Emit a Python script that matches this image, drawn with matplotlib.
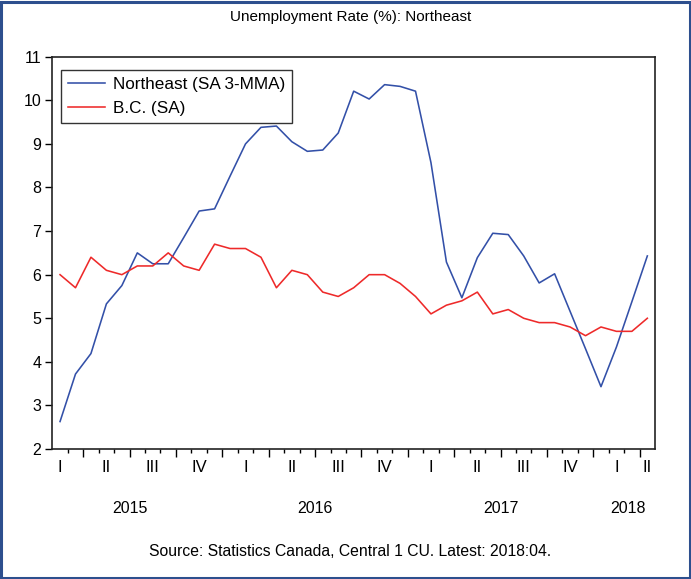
import matplotlib
matplotlib.use("Agg")
import matplotlib.pyplot as plt
from matplotlib.patches import Rectangle

plt.rcParams["font.family"] = ["Liberation Sans", "DejaVu Sans"]

# monthly series, 2015:02 to 2018:04
start_year = 2015
start_month = 2
northeast = [2.63, 3.72, 4.19, 5.33, 5.75, 6.50, 6.25, 6.25, 6.85, 7.46,
             7.51, 8.26, 9.00, 9.38, 9.41, 9.05, 8.83, 8.86, 9.25, 10.21,
             10.03, 10.36, 10.32, 10.21, 8.57, 6.29, 5.47, 6.39, 6.95, 6.92,
             6.43, 5.81, 6.02, 5.16, 4.30, 3.43, 4.34, 5.38, 6.43]
bc = [6.0, 5.7, 6.4, 6.1, 6.0, 6.2, 6.2, 6.5, 6.2, 6.1,
      6.7, 6.6, 6.6, 6.4, 5.7, 6.1, 6.0, 5.6, 5.5, 5.7,
      6.0, 6.0, 5.8, 5.5, 5.1, 5.3, 5.4, 5.6, 5.1, 5.2,
      5.0, 4.9, 4.9, 4.8, 4.6, 4.8, 4.7, 4.7, 5.0]
quarter_names = ["I", "II", "III", "IV"]
series_labels = ["Northeast (SA 3-MMA)", "B.C. (SA)"]

n = len(bc)
x = list(range(n))
months = [(start_month - 1 + i) % 12 for i in range(n)]
years = [start_year + (start_month - 1 + i) // 12 for i in range(n)]

fig = plt.figure(figsize=(6.91, 5.79), dpi=100)
ax = fig.add_axes([0.0757, 0.2245, 0.8723, 0.6775])

ax.plot(x, northeast, color="#3350a8", lw=1.15, label=series_labels[0])
ax.plot(x, bc, color="#ee2a2a", lw=1.15, label=series_labels[1])

ax.set_xlim(-0.5, n - 0.5)
ax.set_ylim(2, 11)
ax.set_yticks(range(2, 12))
ax.tick_params(axis="y", direction="out", length=5, width=1, labelsize=11.5, pad=3)

# month ticks between observations, longer ones at quarter starts
bounds = [i - 0.5 for i in range(1, n)]
major = [i - 0.5 for i in range(1, n) if months[i] % 3 == 0]
minor = [b for b in bounds if b not in major]
ax.set_xticks(major)
ax.set_xticks(minor, minor=True)
ax.set_xticklabels([])
ax.tick_params(axis="x", which="major", direction="out", length=6, width=1)
ax.tick_params(axis="x", which="minor", direction="out", length=3, width=1)

for s in ax.spines.values():
    s.set_linewidth(1.2)
    s.set_color("#222222")

# quarter labels, centred on each quarter (kept inside the axis)
quarters = {}
for i in x:
    key = (years[i], months[i] // 3)
    quarters.setdefault(key, []).append(i)
for (yr, q), idx in quarters.items():
    first = idx[0] - months[idx[0]] % 3
    pos = min(max(first + 1, 0), n - 1)
    ax.text(pos, -0.048, quarter_names[q], transform=ax.get_xaxis_transform(),
            ha="center", va="center", fontsize=12)

# year labels
yrs = {}
for i in x:
    yrs.setdefault(years[i], []).append(i)
for yr, idx in yrs.items():
    first = idx[0] - months[idx[0]]
    last = first + 11
    pos = (max(first, -0.5) + min(last, n - 0.5)) / 2 if yr == years[-1] else (first + last) / 2
    ax.text(pos, -0.152, str(yr), transform=ax.get_xaxis_transform(),
            ha="center", va="center", fontsize=11.5)

leg = ax.legend(loc="upper left", bbox_to_anchor=(0.014, 0.967), fontsize=12.3,
                frameon=True, fancybox=False, handlelength=2.2, handletextpad=0.45,
                borderpad=0.4, labelspacing=0.55, borderaxespad=0)
leg.get_frame().set_edgecolor("black")
leg.get_frame().set_linewidth(1.0)

fig.text(0.508, 0.97, "Unemployment Rate (%): Northeast", ha="center", va="center", fontsize=11)
fig.text(0.507, 0.047, "Source: Statistics Canada, Central 1 CU. Latest: 2018:04.",
         ha="center", va="center", fontsize=11.3)

fig.patches.append(Rectangle((0.001, 0.002), 0.997, 0.995, transform=fig.transFigure,
                             fill=False, edgecolor="#2d4f8e", linewidth=2.2))

fig.savefig("out.png", dpi=100)
